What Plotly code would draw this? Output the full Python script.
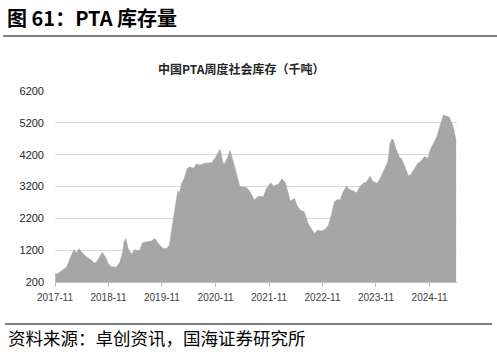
import plotly.graph_objects as go

dates = [
    "2017-11-03", "2017-11-13", "2017-12-05", "2018-01-08", "2018-01-20", "2018-02-11",
    "2018-03-01", "2018-03-11", "2018-03-27", "2018-04-14", "2018-04-30", "2018-06-04",
    "2018-07-08", "2018-07-24", "2018-08-12", "2018-09-03", "2018-09-19", "2018-10-08",
    "2018-10-30", "2018-11-22", "2018-12-27", "2019-01-18", "2019-02-06", "2019-02-15",
    "2019-02-28", "2019-03-15", "2019-04-07", "2019-04-30", "2019-05-22", "2019-06-03",
    "2019-06-21", "2019-07-18", "2019-08-22", "2019-09-13", "2019-10-06", "2019-11-10",
    "2019-12-03", "2019-12-21", "2020-01-13", "2020-02-05", "2020-02-17", "2020-02-28",
    "2020-03-14", "2020-04-01", "2020-04-22", "2020-05-10", "2020-06-02", "2020-06-25",
    "2020-07-17", "2020-08-21", "2020-10-06", "2020-10-28", "2020-12-02", "2020-12-22",
    "2021-01-05", "2021-01-28", "2021-02-07", "2021-03-02", "2021-04-01", "2021-04-16",
    "2021-06-01", "2021-06-24", "2021-07-23", "2021-08-20", "2021-09-23", "2021-10-16",
    "2021-11-13", "2021-12-01", "2022-01-04", "2022-01-27", "2022-02-19", "2022-03-08",
    "2022-03-27", "2022-04-23", "2022-05-10", "2022-05-31", "2022-06-29", "2022-07-26",
    "2022-08-19", "2022-09-06", "2022-09-29", "2022-10-22", "2022-11-18", "2022-12-11",
    "2022-12-29", "2023-01-21", "2023-02-13", "2023-03-01", "2023-03-22", "2023-04-14",
    "2023-04-30", "2023-05-29", "2023-06-22", "2023-07-14", "2023-08-06", "2023-08-30",
    "2023-09-21", "2023-10-07", "2023-11-06", "2023-11-17", "2023-12-10", "2024-01-02",
    "2024-01-21", "2024-02-05", "2024-02-17", "2024-02-28", "2024-03-15", "2024-04-07",
    "2024-04-25", "2024-05-17", "2024-06-09", "2024-06-28", "2024-07-20", "2024-08-12",
    "2024-09-04", "2024-09-27", "2024-10-20", "2024-11-05", "2024-11-28", "2024-12-21",
    "2025-01-13", "2025-02-04", "2025-02-21", "2025-03-14", "2025-04-06", "2025-04-19",
    "2025-05-01",
]
inventory = [
    480, 443, 515, 620, 670, 937,
    1145, 1220, 1113, 1250, 1145, 988,
    883, 798, 830, 1010, 1135, 1010,
    780, 672, 672, 830, 1145, 1460,
    1567, 1250, 1073, 1220, 1177, 1200,
    1430, 1460, 1490, 1567, 1410, 1250,
    1250, 1356, 2090, 2670, 3067, 2985,
    3300, 3457, 3770, 3820, 3770, 3907,
    3877, 3930, 3950, 4090, 4370, 3930,
    3930, 4190, 4340, 3980, 3457, 3200,
    3170, 3035, 2775, 2890, 2880, 3150,
    3320, 3215, 3270, 3440, 3330, 3040,
    2740, 2830, 2620, 2460, 2405, 2040,
    1880, 1725, 1830, 1800, 1850, 1985,
    2250, 2720, 2795, 2775, 3035, 3215,
    3110, 3067, 3000, 3190, 3300, 3350,
    3530, 3380, 3300, 3350, 3560, 3790,
    3980, 4560, 4685, 4665, 4400, 4140,
    4055, 3820, 3530, 3590, 3770, 3930,
    4000, 4140, 4090, 4350, 4560, 4770,
    5140, 5450, 5420, 5380, 5140, 4925,
    4610,
]
y_ticks = [200, 1200, 2200, 3200, 4200, 5200, 6200]

fig_title = "图 61：PTA 库存量"
chart_title = "<b>中国PTA周度社会库存（千吨）</b>"
source_text = "资料来源：卓创资讯，国海证券研究所"

fig = go.Figure()
fig.add_trace(go.Scatter(
    x=dates, y=inventory, mode="lines", fill="tozeroy",
    line=dict(color="#A6A6A6", width=0.5), fillcolor="#A6A6A6",
    hoverinfo="skip", showlegend=False,
))

cjk = "Noto Sans CJK SC"
fig.update_layout(
    width=497, height=352,
    margin=dict(l=55, r=40, t=91, b=70),
    paper_bgcolor="white", plot_bgcolor="white",
    xaxis=dict(
        type="date", range=["2017-11-01", "2025-05-07"],
        tick0="2017-11-01", dtick="M12", tickformat="%Y-%m",
        showgrid=False, showline=True, linecolor="#BFBFBF", linewidth=1,
        ticks="outside", ticklen=4, tickcolor="#BFBFBF",
        tickfont=dict(family="Liberation Sans", size=10, color="#404040"),
        ticklabelstandoff=2,
    ),
    yaxis=dict(
        range=[200, 6200], tickvals=y_ticks,
        showgrid=True, gridcolor="#D9D9D9", gridwidth=1,
        zeroline=False, showline=False,
        tickfont=dict(family="Liberation Sans", size=11, color="#262626"),
        ticklabelstandoff=10,
    ),
    shapes=[
        dict(type="line", xref="paper", yref="paper", x0=-0.129, x1=1.1, y0=1.288, y1=1.288,
             line=dict(color="black", width=1.2)),
        dict(type="line", xref="paper", yref="paper", x0=-0.124, x1=1.087, y0=-0.22, y1=-0.22,
             line=dict(color="black", width=1.2)),
    ],
    annotations=[
        dict(text="<b>" + fig_title + "</b>", xref="paper", yref="paper", x=-0.124, y=1.387,
             xanchor="left", yanchor="middle", showarrow=False,
             font=dict(family=cjk, size=20, color="black")),
        dict(text=chart_title, xref="paper", yref="paper", x=0.4627, y=1.12,
             xanchor="center", yanchor="middle", showarrow=False,
             font=dict(family=cjk, size=12, color="#262626")),
        dict(text=source_text, xref="paper", yref="paper", x=-0.122, y=-0.288,
             xanchor="left", yanchor="middle", showarrow=False,
             font=dict(family=cjk, size=17.5, color="black")),
    ],
)
fig.write_html("out.html")
